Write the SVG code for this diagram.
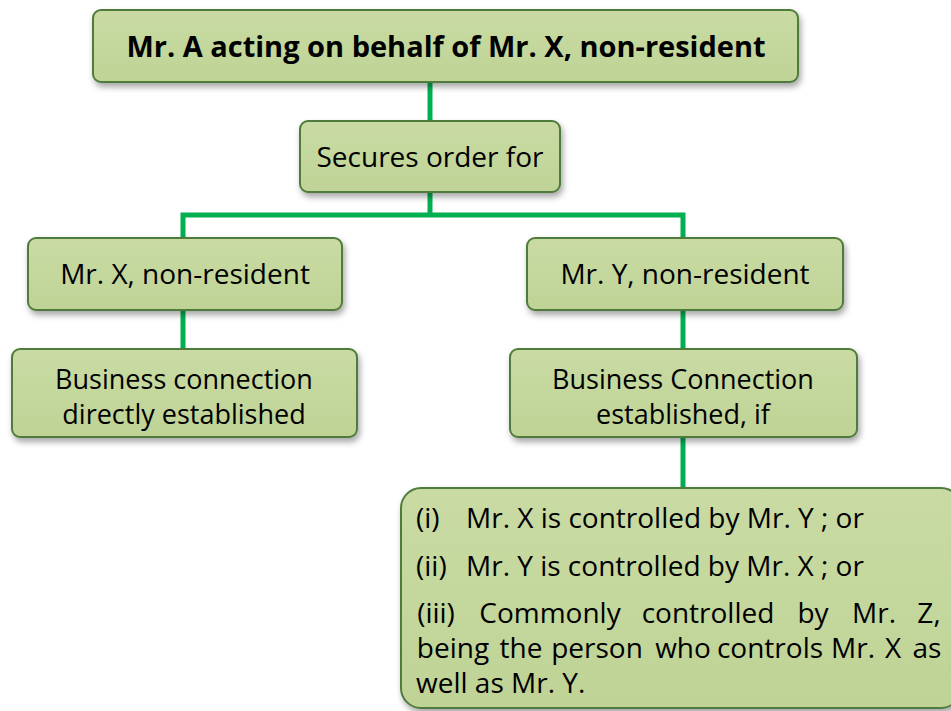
<svg xmlns="http://www.w3.org/2000/svg" width="951" height="711" viewBox="0 0 951 711">
<defs>
<filter id="sh" x="-10%" y="-10%" width="125%" height="140%">
<feDropShadow dx="2" dy="4" stdDeviation="3" flood-color="#000" flood-opacity="0.35"/>
</filter>
<linearGradient id="g" x1="0" y1="0" x2="0" y2="1">
<stop offset="0" stop-color="#c9dba3"/>
<stop offset="1" stop-color="#bfd396"/>
</linearGradient>
</defs>
<style>
.box{fill:url(#g);stroke:#4f7b3c;stroke-width:2;filter:url(#sh)}
.t{font-family:"Open Sans","Noto Sans","Liberation Sans",sans-serif;font-size:28px;fill:#000;text-anchor:middle}
.s{font-size:27px}
.b{font-weight:bold;font-size:29px}
.l{font-family:"Open Sans","Noto Sans","Liberation Sans",sans-serif;font-size:28px;fill:#000}
.m{text-anchor:middle}
.c{stroke:#00b050;stroke-width:5;fill:none}
</style>
<rect width="951" height="711" fill="#fff"/>
<g id="connectors">
<line class="c" x1="430" y1="82" x2="430" y2="121"/>
<line class="c" x1="430" y1="192" x2="430" y2="215"/>
<polyline class="c" points="183,238 183,215 683,215 683,238"/>
<line class="c" x1="183" y1="310" x2="183" y2="349"/>
<line class="c" x1="683" y1="310" x2="683" y2="349"/>
<line class="c" x1="683" y1="437" x2="683" y2="488"/>
</g>
<g id="n1">
<rect class="box" x="93" y="10" width="705" height="72" rx="8"/>
<text class="t b" x="446" y="57">Mr. A acting on behalf of Mr. X, non-resident</text>
</g>
<g id="n2">
<rect class="box" x="300" y="121" width="260" height="71" rx="8"/>
<text class="t" x="430" y="167">Secures order for</text>
</g>
<g id="n3">
<rect class="box" x="28" y="238" width="314" height="72" rx="8"/>
<text class="t" x="185" y="284">Mr. X, non-resident</text>
</g>
<g id="n4">
<rect class="box" x="527" y="238" width="316" height="72" rx="8"/>
<text class="t" x="685" y="284">Mr. Y, non-resident</text>
</g>
<g id="n5">
<rect class="box" x="12" y="349" width="345" height="88" rx="8"/>
<text class="t s" x="184" y="389">Business connection</text>
<text class="t s" x="184" y="424">directly established</text>
</g>
<g id="n6">
<rect class="box" x="510" y="349" width="347" height="88" rx="8"/>
<text class="t s" x="683" y="389">Business Connection</text>
<text class="t s" x="683" y="424">established, if</text>
</g>
<g id="n7">
<rect class="box" x="401" y="488" width="560" height="220" rx="20"/>
<text class="l" x="416" y="528">(i)</text>
<text class="l" x="466" y="528">Mr. X is controlled by Mr. Y ; or</text>
<text class="l" x="416" y="576">(ii)</text>
<text class="l" x="466" y="576">Mr. Y is controlled by Mr. X ; or</text>
<text class="l m" y="623"><tspan x="436">(iii)</tspan><tspan x="550">Commonly</tspan><tspan x="708">controlled</tspan><tspan x="813">by</tspan><tspan x="874">Mr.</tspan><tspan x="929">Z,</tspan></text>
<text class="l m" y="658"><tspan x="453">being</tspan><tspan x="521">the</tspan><tspan x="597">person</tspan><tspan x="683">who</tspan><tspan x="770">controls</tspan><tspan x="853">Mr.</tspan><tspan x="893">X</tspan><tspan x="927">as</tspan></text>
<text class="l" x="416" y="693">well as Mr. Y.</text>
</g>
</svg>
